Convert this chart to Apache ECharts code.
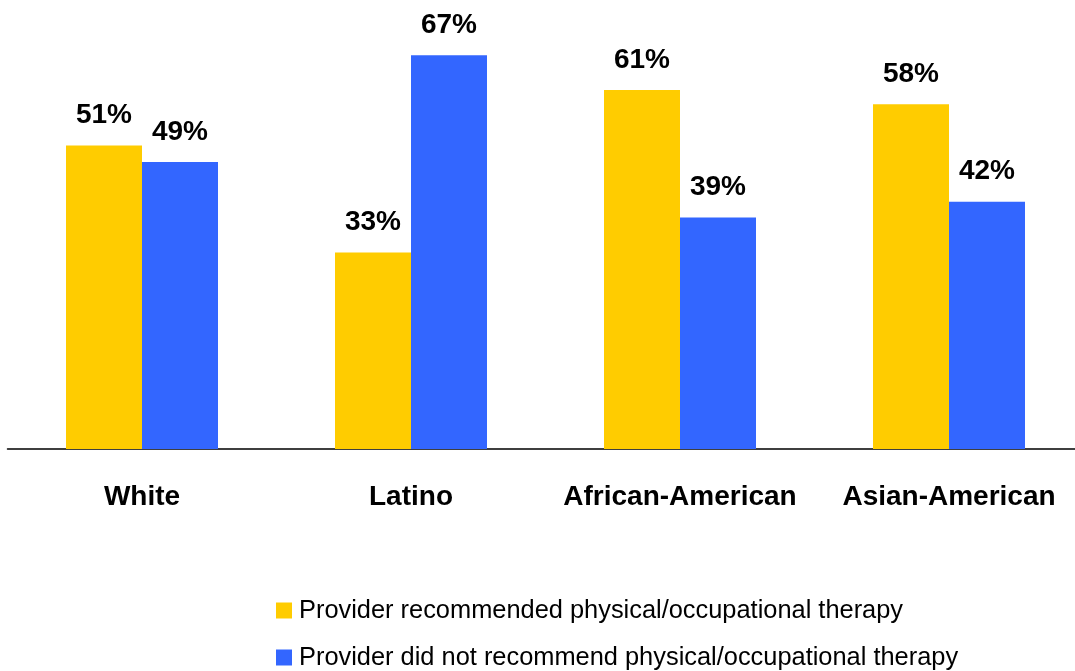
<!DOCTYPE html>
<html>
<head>
<meta charset="utf-8">
<script src="https://cdn.jsdelivr.net/npm/echarts@6/dist/echarts.min.js"></script>
<style>html,body{margin:0;padding:0;background:#fff;overflow:hidden;}#c{width:1084px;height:671px;}</style>
</head>
<body>
<div id="c"></div>
<script>
const categories = ['White', 'Latino', 'African-American', 'Asian-American'];
const recommended = [51.4, 33.3, 60.8, 58.4];
const notRecommended = [48.6, 66.7, 39.2, 41.9];
const seriesNames = ['Provider recommended physical/occupational therapy', 'Provider did not recommend physical/occupational therapy'];

const chart = echarts.init(document.getElementById('c'));
const FONT = 'Liberation Sans, Arial, sans-serif';
const labelStyle = {
  show: true, position: 'top', distance: 16,
  formatter: p => Math.round(p.value) + '%',
  fontFamily: FONT, fontWeight: 'bold', fontSize: 28, color: '#000'
};
const legendBase = {
  orient: 'vertical', left: 276, padding: 0,
  itemWidth: 16, itemHeight: 16,
  icon: 'rect',
  textStyle: { fontFamily: FONT, fontSize: 25.4, lineHeight: 16, color: '#000', padding: [0, 0, 0, 2] }
};
chart.setOption({
  animation: false,
  backgroundColor: '#fff',
  grid: { left: 7.5, right: 0.5, top: 35.8, bottom: 671 - 449 },
  xAxis: {
    type: 'category', data: categories,
    axisLine: { lineStyle: { color: '#000', width: 1.5 } },
    axisTick: { show: false },
    axisLabel: { margin: 34, color: '#000', fontFamily: FONT, fontWeight: 'bold', fontSize: 28, interval: 0 }
  },
  yAxis: { type: 'value', min: 0, max: 70, show: false, splitLine: { show: false } },
  legend: [
    Object.assign({}, legendBase, { top: 598, data: [seriesNames[0]] }),
    Object.assign({}, legendBase, { top: 645, data: [seriesNames[1]] })
  ],
  series: [
    { name: seriesNames[0], type: 'bar', data: recommended, barWidth: 76, barGap: '0%', itemStyle: { color: '#FFCC00' }, label: labelStyle },
    { name: seriesNames[1], type: 'bar', data: notRecommended, barWidth: 76, barGap: '0%', itemStyle: { color: '#3366FF' }, label: labelStyle }
  ]
});
</script>
</body>
</html>
